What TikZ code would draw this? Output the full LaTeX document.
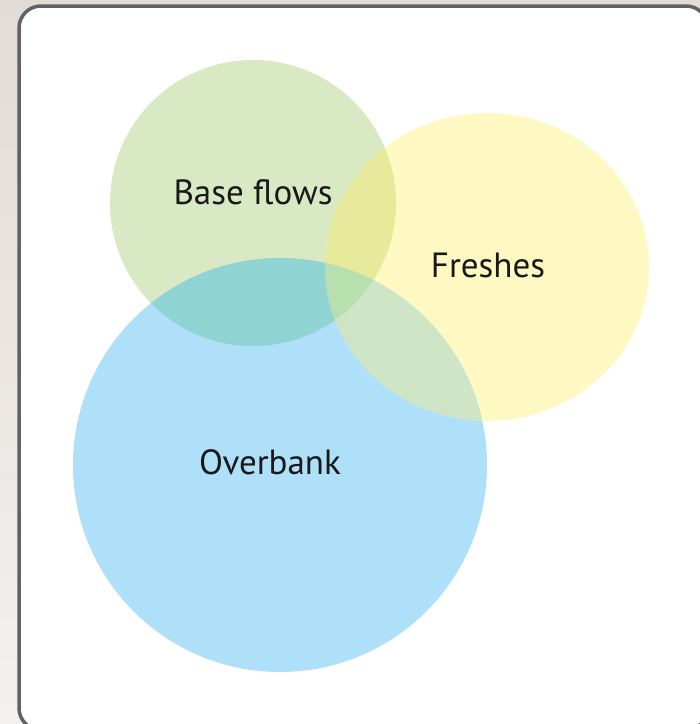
\documentclass[tikz,border=0pt]{standalone}
\usepackage{fontspec}
\setmainfont{PT Sans}
\definecolor{paper}{HTML}{E2DBD6}
\definecolor{paperlow}{HTML}{F3F1EF}
\definecolor{frame}{HTML}{626262}
\definecolor{basecol}{HTML}{D9E9C3}
\definecolor{freshcol}{HTML}{FEF9C3}
\definecolor{overcol}{HTML}{AEE0FA}
\definecolor{basefresh}{HTML}{E6EA9A}
\definecolor{baseover}{HTML}{8FD3D3}
\definecolor{freshover}{HTML}{CFE6C6}
\definecolor{allthree}{HTML}{B8DFAE}
% the three sets
\newcommand{\baseset}{(253,203) circle (143pt)}
\newcommand{\freshset}{(487,267) ellipse [x radius=162pt, y radius=154pt]}
\newcommand{\overset}{(280,465) circle (207pt)}
\begin{document}
\begin{tikzpicture}[
    x=1pt, y=-1pt,
    setlabel/.style={font=\fontsize{35}{38}\selectfont, text=black!90}
    ]
    \useasboundingbox (0,0) rectangle (700,724);
    \shade[top color=paper, bottom color=paperlow] (0,0) rectangle (700,724);
    \begin{scope}
        \clip (0,0) rectangle (700,724);
        \draw[frame, line width=3.5pt, fill=white, rounded corners=22pt] (19,6) rectangle (708,730);
    \end{scope}

    \fill[basecol] \baseset;
    \fill[freshcol] \freshset;
    \fill[overcol] \overset;
    \begin{scope}
        \clip \baseset;
        \fill[basefresh] \freshset;
        \fill[baseover] \overset;
    \end{scope}
    \begin{scope}
        \clip \freshset;
        \fill[freshover] \overset;
        \clip \overset;
        \fill[allthree] \baseset;
    \end{scope}

    \node[setlabel] (base) at (253,192) {Base flows};
    \node[setlabel] (fresh) at (488,265) {Freshes};
    \node[setlabel] (over) at (270,462) {Overbank};
\end{tikzpicture}
\end{document}
